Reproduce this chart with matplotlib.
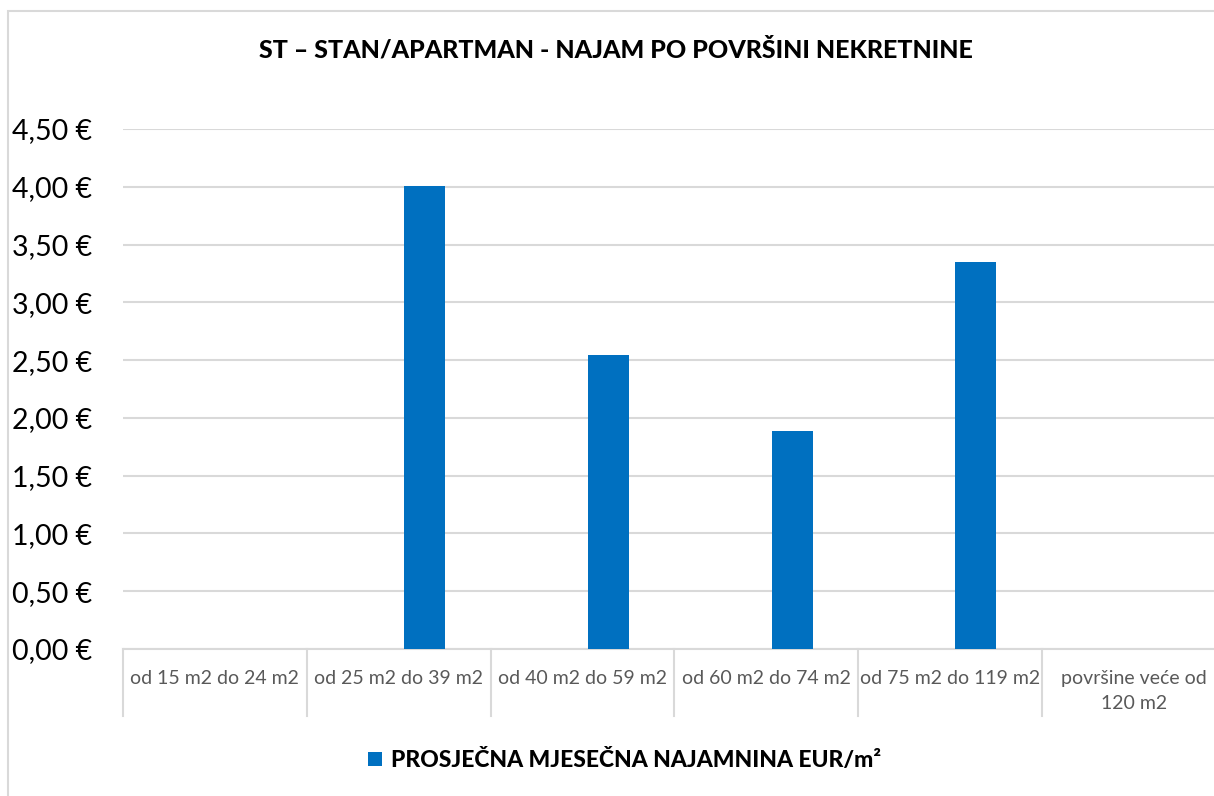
import matplotlib
matplotlib.use("Agg")
import matplotlib.pyplot as plt
import matplotlib.patches as mpatches
import matplotlib.transforms as mtransforms
import numpy as np

# data
categories = ["od 15 m2 do 24 m2", "od 25 m2 do 39 m2", "od 40 m2 do 59 m2",
              "od 60 m2 do 74 m2", "od 75 m2 do 119 m2", "površine veće od\n120 m2"]
rent = [0.0, 4.01, 2.54, 1.89, 3.35, 0.0]
y_ticks = [0.0, 0.5, 1.0, 1.5, 2.0, 2.5, 3.0, 3.5, 4.0, 4.5]
series_name = "PROSJEČNA MJESEČNA NAJAMNINA EUR/m²"
title = "ST – STAN/APARTMAN - NAJAM PO POVRŠINI NEKRETNINE"

plt.rcParams['font.family'] = ['Lato', 'DejaVu Sans']

W, H = 1214, 796
fig = plt.figure(figsize=(W / 100, H / 100), dpi=100)
fig.patch.set_facecolor("white")

grid_c = "#d9d9d9"
bar_c = "#0070C0"

# outer chart frame (runs off the right and bottom edge like the source)
frame = mpatches.Rectangle((8 / W, -0.1), 1.2, 1 - 11 / H + 0.1, transform=fig.transFigure,
                           fill=False, edgecolor=grid_c, lw=1.5)
fig.patches.append(frame)

left, right, bottom, top = 123, 1226, 649, 129
ax = fig.add_axes([left / W, 1 - bottom / H, (right - left) / W, (bottom - top) / H])

x = np.arange(len(categories))
bars = ax.bar(x + 0.14, rent, width=0.223, color=bar_c, zorder=3, label=series_name)

ax.set_xlim(-0.5, len(categories) - 0.5)
ax.set_ylim(0, 4.5)
ax.set_yticks(y_ticks)
ax.set_yticklabels([f"{v:.2f}".replace(".", ",") + " €" for v in y_ticks])
ax.yaxis.grid(True, color=grid_c, lw=1.5, zorder=0)
ax.set_axisbelow(True)
for s in ["top", "right", "left"]:
    ax.spines[s].set_visible(False)
ax.spines["bottom"].set_color(grid_c)
ax.spines["bottom"].set_linewidth(1.5)
ax.tick_params(axis="y", length=0, pad=22, labelsize=20.5, labelcolor="black")

ax.set_xticks(x)
ax.set_xticklabels(categories)
ax.tick_params(axis="x", length=0, pad=15, labelsize=14, labelcolor="#595959")
for lbl in ax.get_xticklabels():
    lbl.set_linespacing(1.6)

# category divider lines below the axis
trans = mtransforms.blended_transform_factory(ax.transData, ax.transAxes)
depth = (716 - bottom) / (bottom - top)
for b in np.arange(len(categories) + 1) - 0.5:
    ax.plot([b, b], [0, -depth], transform=trans, color=grid_c, lw=1.5, clip_on=False)

fig.text(616 / W, 1 - 50 / H, title, ha="center", va="center",
         fontsize=18, fontweight=900, color="black")

fig.legend(handles=[bars], labels=[series_name], loc="center",
           bbox_to_anchor=(625 / W, 1 - 760 / H), frameon=False,
           handlelength=0.6, handleheight=0.6, handletextpad=0.4,
           prop={"weight": 900, "size": 16.5})

fig.savefig("out.png", dpi=100)
